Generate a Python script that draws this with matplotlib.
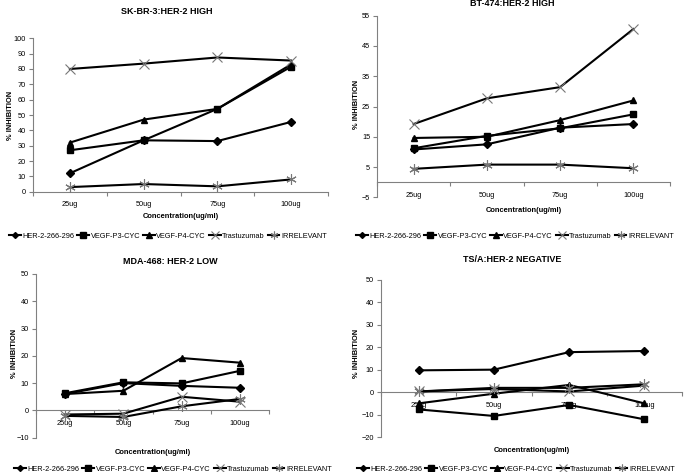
import matplotlib
matplotlib.use("Agg")
import matplotlib.pyplot as plt
import numpy as np

plt.rcParams['font.family'] = ['Liberation Sans', 'DejaVu Sans']

categories = ['25ug', '50ug', '75ug', '100ug']
series_names = ['HER-2-266-296', 'VEGF-P3-CYC', 'VEGF-P4-CYC', 'Trastuzumab', 'IRRELEVANT']

# SK-BR-3
skbr3_her2 = [12, 33.5, 33, 45.5]
skbr3_p3 = [27, 33.5, 54, 81.5]
skbr3_p4 = [32, 47, 54, 83]
skbr3_tras = [80, 83.5, 87.5, 85.5]
skbr3_irr = [3, 5, 3.5, 8]

# BT-474
bt474_her2 = [10.8, 12.5, 18, 19.2]
bt474_p3 = [11.2, 15.3, 17.8, 22.4]
bt474_p4 = [14.6, 15, 20.5, 27]
bt474_tras = [19.2, 27.7, 31.4, 50.6]
bt474_irr = [4.4, 5.8, 5.8, 4.6]

# MDA-468
mda468_her2 = [6, 10, 9, 8.3]
mda468_p3 = [6.3, 10.3, 9.9, 14.5]
mda468_p4 = [6, 7.2, 19.2, 17.5]
mda468_tras = [-1.5, -1.2, 5, 3.2]
mda468_irr = [-2, -2.4, 1.5, 4.2]

# TS/A
tsa_her2 = [9.8, 10.1, 17.9, 18.4]
tsa_p3 = [-7.6, -10.5, -5.6, -12]
tsa_p4 = [-4.9, -0.6, 3.3, -4.9]
tsa_tras = [0.4, 1.5, 0.4, 3.0]
tsa_irr = [0.4, 2.0, 2.0, 3.6]

W, H = 685, 472
fig = plt.figure(figsize=(W / 100, H / 100), dpi=100)


def px_rect(x0, y_top, w, y_bot):
    return [x0 / W, 1 - y_bot / H, w / W, (y_bot - y_top) / H]


markers = [
    dict(marker='D', ms=4, mfc='black', mec='black'),
    dict(marker='s', ms=5, mfc='black', mec='black'),
    dict(marker='^', ms=5, mfc='black', mec='black'),
    dict(marker='x', ms=7.5, mfc='none', mec='#777777', mew=0.8),
    dict(marker=(6, 2, 0), ms=7.5, mfc='none', mec='#777777', mew=0.8),
]

panels = [
    dict(title='SK-BR-3:HER-2 HIGH', data=[skbr3_her2, skbr3_p3, skbr3_p4, skbr3_tras, skbr3_irr],
         rect=px_rect(33, 38.3, 295, 191.7), ylim=(0, 100), yticks=np.arange(0, 101, 10),
         title_xy=(167, 11), xlabel_y=216, ylabel_xy=(11, 115), legend_xy=(168, 236)),
    dict(title='BT-474:HER-2 HIGH', data=[bt474_her2, bt474_p3, bt474_p4, bt474_tras, bt474_irr],
         rect=px_rect(377, 15.7, 293, 197.3), ylim=(-5, 55), yticks=np.arange(-5, 56, 10),
         title_xy=(512, 4), xlabel_y=211, ylabel_xy=(357, 104), legend_xy=(515, 236)),
    dict(title='MDA-468: HER-2 LOW', data=[mda468_her2, mda468_p3, mda468_p4, mda468_tras, mda468_irr],
         rect=px_rect(36, 274, 233, 437.7), ylim=(-10, 50), yticks=np.arange(-10, 51, 10),
         title_xy=(170, 262), xlabel_y=452, ylabel_xy=(15, 353), legend_xy=(173, 469)),
    dict(title='TS/A:HER-2 NEGATIVE', data=[tsa_her2, tsa_p3, tsa_p4, tsa_tras, tsa_irr],
         rect=px_rect(381, 280, 301, 437.3), ylim=(-20, 50), yticks=np.arange(-20, 51, 10),
         title_xy=(512, 259), xlabel_y=451, ylabel_xy=(357, 353), legend_xy=(516, 469)),
]

x = np.arange(1, len(categories) + 1)
spine_color = '#808080'

for p in panels:
    ax = fig.add_axes(p['rect'])
    handles = []
    for vals, name, mk in zip(p['data'], series_names, markers):
        h, = ax.plot(x, vals, color='black', lw=1.5, label=name, zorder=3, **mk)
        handles.append(h)
    ax.set_xlim(0.5, len(categories) + 0.5)
    ax.set_ylim(*p['ylim'])
    ax.set_yticks(p['yticks'])
    ax.set_xticks(x)
    ax.set_xticklabels(categories)
    ax.set_xticks(np.arange(0.5, len(categories) + 1, 1), minor=True)
    ax.tick_params(axis='x', which='major', length=0, labelsize=5.3, pad=7)
    ax.tick_params(axis='x', which='minor', length=3, color=spine_color, width=0.8)
    ax.tick_params(axis='y', length=3, color=spine_color, width=0.8, labelsize=5.3, pad=2)
    for s in ['top', 'right']:
        ax.spines[s].set_visible(False)
    ax.spines['bottom'].set_position(('data', 0))
    for s in ['left', 'bottom']:
        ax.spines[s].set_color(spine_color)
        ax.spines[s].set_linewidth(0.8)
    ax.patch.set_visible(False)

    tx, ty = p['title_xy']
    fig.text(tx / W, 1 - ty / H, p['title'], ha='center', va='center',
             fontsize=6.5, fontweight='bold')
    fig.text((p['rect'][0] + p['rect'][2] / 2), 1 - p['xlabel_y'] / H,
             'Concentration(ug/ml)', ha='center', va='center', fontsize=5.4, fontweight='bold')
    lx, ly = p['ylabel_xy']
    fig.text(lx / W, 1 - ly / H, '% INHIBITION', ha='center', va='center',
             rotation=90, fontsize=5.4, fontweight='bold')
    lgx, lgy = p['legend_xy']
    fig.legend(handles=handles, labels=series_names, loc='center',
               bbox_to_anchor=(lgx / W, 1 - lgy / H), bbox_transform=fig.transFigure,
               ncol=5, frameon=False, fontsize=5.3, handlelength=1.6,
               handletextpad=0.2, columnspacing=0.4, borderpad=0, markerscale=0.75)

fig.savefig('out.png', dpi=100, facecolor='white')
